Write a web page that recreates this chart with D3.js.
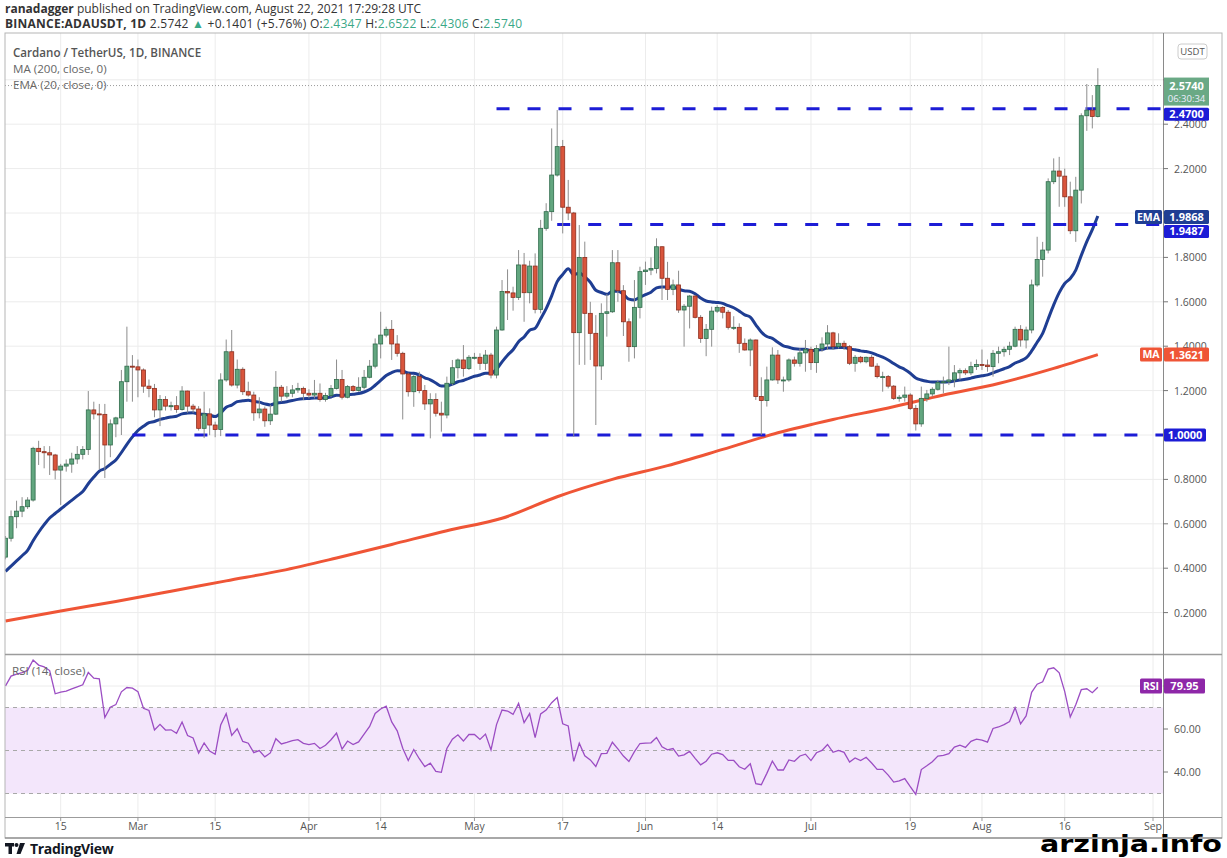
<!DOCTYPE html>
<html><head><meta charset="utf-8">
<script src="https://cdn.jsdelivr.net/npm/d3@7"></script>
<style>body{margin:0;background:#fff}svg{display:block;font-family:"Open Sans",sans-serif}</style>
</head><body><svg id="c" width="1227" height="858"></svg>
<script>
// ---------- DATA (ADA/USDT daily, 2021-02-05 .. 2021-08-22) ----------
const firstDay = "2021-02-05";
const opens = [0.45,0.535,0.632,0.657,0.677,0.707,0.94,0.925,0.92,0.91,0.842,0.86,0.869,0.892,0.913,0.935,1.113,1.095,1.093,0.955,1.05,1.077,1.24,1.31,1.307,1.293,1.22,1.21,1.113,1.16,1.13,1.132,1.115,1.198,1.13,1.117,1.03,1.095,1.045,1.025,1.248,1.375,1.225,1.296,1.195,1.18,1.10,1.117,1.064,1.094,1.215,1.175,1.188,1.203,1.21,1.188,1.18,1.188,1.16,1.178,1.21,1.25,1.17,1.218,1.20,1.215,1.26,1.31,1.41,1.45,1.476,1.41,1.368,1.275,1.195,1.263,1.20,1.14,1.16,1.098,1.09,1.233,1.303,1.338,1.30,1.35,1.35,1.323,1.36,1.27,1.473,1.646,1.64,1.62,1.766,1.641,1.761,1.566,1.931,2.006,2.171,2.299,2.026,2.0,1.461,1.80,1.548,1.458,1.311,1.548,1.555,1.776,1.65,1.51,1.398,1.575,1.736,1.743,1.75,1.848,1.706,1.656,1.676,1.563,1.58,1.626,1.53,1.435,1.476,1.558,1.575,1.553,1.485,1.485,1.413,1.383,1.428,1.173,1.155,1.248,1.36,1.248,1.248,1.338,1.323,1.37,1.386,1.326,1.39,1.41,1.46,1.398,1.413,1.398,1.323,1.35,1.33,1.35,1.31,1.263,1.263,1.22,1.165,1.17,1.18,1.12,1.05,1.165,1.185,1.206,1.236,1.24,1.248,1.28,1.29,1.28,1.308,1.318,1.315,1.308,1.368,1.375,1.386,1.40,1.476,1.428,1.473,1.676,1.791,1.833,2.141,2.189,2.166,2.073,1.92,2.103,2.438,2.463,2.4347];
const highs = [0.545,0.66,0.704,0.72,0.72,0.947,0.974,0.95,0.95,0.915,0.87,0.89,0.92,0.95,0.95,1.198,1.15,1.14,1.14,1.07,1.082,1.293,1.488,1.36,1.34,1.30,1.25,1.23,1.18,1.175,1.15,1.175,1.22,1.20,1.14,1.13,1.195,1.12,1.06,1.278,1.43,1.473,1.34,1.305,1.24,1.195,1.17,1.128,1.135,1.288,1.225,1.22,1.225,1.235,1.218,1.206,1.248,1.232,1.19,1.225,1.34,1.293,1.225,1.225,1.26,1.293,1.338,1.435,1.555,1.488,1.518,1.45,1.375,1.28,1.27,1.285,1.225,1.188,1.188,1.15,1.263,1.338,1.345,1.405,1.36,1.37,1.368,1.383,1.37,1.488,1.698,1.746,1.668,1.833,1.82,1.785,1.818,1.969,2.044,2.381,2.464,2.329,2.149,2.005,1.946,1.871,1.60,1.54,1.593,1.635,1.833,1.833,1.675,1.525,1.698,1.758,1.781,1.80,1.886,1.85,1.78,1.70,1.74,1.59,1.63,1.63,1.54,1.50,1.578,1.585,1.58,1.563,1.535,1.503,1.435,1.435,1.43,1.26,1.308,1.395,1.383,1.263,1.345,1.353,1.39,1.428,1.398,1.405,1.44,1.495,1.465,1.458,1.425,1.405,1.36,1.356,1.353,1.36,1.323,1.285,1.27,1.225,1.18,1.218,1.188,1.135,1.218,1.203,1.215,1.248,1.263,1.398,1.315,1.30,1.30,1.33,1.34,1.385,1.34,1.383,1.398,1.398,1.42,1.488,1.495,1.488,1.70,1.893,1.87,2.156,2.246,2.253,2.20,2.141,2.163,2.449,2.581,2.531,2.6522];
const lows = [0.44,0.52,0.58,0.63,0.667,0.70,0.865,0.85,0.82,0.80,0.685,0.835,0.83,0.87,0.89,0.91,1.07,0.845,0.806,0.90,0.99,1.0,1.15,1.15,1.17,1.19,1.17,1.08,1.04,1.11,1.11,1.10,1.11,1.10,1.10,1.02,0.986,0.999,0.99,0.995,1.24,1.218,1.21,1.18,1.173,1.064,1.075,1.037,1.045,1.09,1.15,1.165,1.17,1.19,1.158,1.165,1.165,1.15,1.15,1.17,1.205,1.16,1.165,1.195,1.195,1.205,1.255,1.30,1.345,1.44,1.338,1.353,1.07,1.173,1.127,1.188,1.113,0.985,1.083,1.015,1.075,1.225,1.255,1.263,1.293,1.34,1.293,1.293,1.255,1.255,1.47,1.518,1.56,1.608,1.51,1.593,1.548,1.548,1.92,1.965,2.164,1.908,1.968,0.992,1.316,1.316,1.338,1.045,1.248,1.443,1.55,1.60,1.446,1.33,1.345,1.525,1.676,1.72,1.728,1.608,1.608,1.63,1.55,1.398,1.48,1.525,1.415,1.355,1.398,1.55,1.525,1.475,1.473,1.37,1.38,1.31,1.158,1.0,1.128,1.245,1.23,1.195,1.24,1.308,1.308,1.285,1.293,1.28,1.375,1.383,1.383,1.39,1.383,1.315,1.285,1.323,1.323,1.308,1.255,1.195,1.21,1.158,1.15,1.15,1.113,1.02,1.037,1.15,1.173,1.20,1.188,1.225,1.215,1.248,1.27,1.27,1.293,1.293,1.285,1.263,1.323,1.353,1.36,1.395,1.398,1.39,1.458,1.668,1.713,1.818,2.13,2.028,2.028,1.905,1.87,2.043,2.37,2.381,2.4306];
const closes = [0.535,0.632,0.657,0.677,0.707,0.94,0.925,0.92,0.91,0.842,0.86,0.869,0.892,0.913,0.935,1.113,1.095,1.093,0.955,1.05,1.077,1.24,1.31,1.307,1.293,1.22,1.21,1.113,1.16,1.13,1.132,1.115,1.198,1.13,1.117,1.03,1.095,1.045,1.025,1.248,1.375,1.225,1.296,1.195,1.18,1.10,1.117,1.064,1.094,1.215,1.175,1.188,1.203,1.21,1.188,1.18,1.188,1.16,1.178,1.21,1.25,1.17,1.218,1.20,1.215,1.26,1.31,1.41,1.45,1.476,1.41,1.368,1.275,1.195,1.263,1.20,1.14,1.16,1.098,1.09,1.233,1.303,1.338,1.30,1.35,1.35,1.323,1.36,1.27,1.473,1.646,1.64,1.62,1.766,1.641,1.761,1.566,1.931,2.006,2.171,2.299,2.026,2.0,1.461,1.80,1.548,1.458,1.311,1.548,1.555,1.776,1.65,1.51,1.398,1.575,1.736,1.743,1.75,1.848,1.706,1.656,1.676,1.563,1.58,1.626,1.53,1.435,1.476,1.558,1.575,1.553,1.485,1.485,1.413,1.383,1.428,1.173,1.155,1.248,1.36,1.248,1.248,1.338,1.323,1.37,1.386,1.326,1.39,1.41,1.46,1.398,1.413,1.398,1.323,1.35,1.33,1.35,1.31,1.263,1.263,1.22,1.165,1.17,1.18,1.12,1.05,1.165,1.185,1.206,1.236,1.24,1.248,1.28,1.29,1.28,1.308,1.318,1.315,1.308,1.368,1.375,1.386,1.40,1.476,1.428,1.473,1.676,1.791,1.833,2.141,2.189,2.166,2.073,1.92,2.103,2.438,2.463,2.4347,2.574];
const maIndex = [0,10,20,30,40,50,60,70,80,90,100,110,120,130,140,150,160,170,180,190,198];
const maValues = [0.162,0.207,0.25,0.296,0.343,0.389,0.446,0.507,0.569,0.625,0.722,0.80,0.862,0.935,1.01,1.07,1.122,1.18,1.232,1.30,1.3621];
const emaSeed = 0.37;                 // EMA value before first shown candle
const rsiSeedGain = 0.02, rsiSeedLoss = 0.005;
const priceTicks = [0.2,0.4,0.6,0.8,1.0,1.2,1.4,1.6,1.8,2.0,2.2,2.4,2.6];
const hiddenPriceTicks = [1.0, 2.0, 2.6];   // covered by badges in the reference
const rsiTicks = [40,60,80];
const hiddenRsiTicks = [80];
const rsiGuides = [70,50,30];
const dateTicks = ["2021-02-15","2021-03-01","2021-03-15","2021-04-01","2021-04-14","2021-05-01","2021-05-17","2021-06-01","2021-06-14","2021-07-01","2021-07-19","2021-08-01","2021-08-16","2021-09-01"];
const dateLabels = ["15","Mar","15","Apr","14","May","17","Jun","14","Jul","19","Aug","16","Sep"];
const levelValues = [2.47, 1.9487, 1.0];
const levelStarts = ["2021-05-05","2021-05-16","2021-02-28"];
const lastRsiText = "79.95";

// ---------- LAYOUT ----------
const svg = d3.select("#c");
const L = 5, R = 1163, FR = 1222, TOP = 33, PB = 654, RT = 655, RB = 817, AB = 838;
const dayMs = 864e5;
const t0 = new Date(firstDay + "T00:00:00Z");
const dates = closes.map((_, i) => new Date(t0.getTime() + i * dayMs));
const x = d3.scaleUtc().domain([new Date("2021-02-15T00:00:00Z"), new Date("2021-09-01T00:00:00Z")]).range([60.7, 1153]);
const y = d3.scaleLinear().domain([0, 2.4]).range([657, 124.2]);
const yr = d3.scaleLinear().domain([40, 60]).range([772, 729]);

const UP = "#62a67f", UPB = "#2f6b4b", DN = "#d9553c", DNB = "#8c2f1f", WICK = "#8d8d8d";
const BLUE = "#1c1cd6", NAVY = "#1f3e93", MAC = "#ef5536", PURP = "#9b4dc3", PURPBOX = "#8e27a8";
const GRID = "#ececec";

const defs = svg.append("defs");
defs.append("clipPath").attr("id", "cp").append("rect").attr("x", L).attr("y", TOP).attr("width", R - L).attr("height", PB - TOP);
defs.append("clipPath").attr("id", "cr").append("rect").attr("x", L).attr("y", RT).attr("width", R - L).attr("height", RB - RT);

// header
const h1 = svg.append("text").attr("x", 5).attr("y", 13).attr("font-size", 12).attr("fill", "#333");
h1.append("tspan").attr("font-weight", 700).text("ranadagger");
h1.append("tspan").text(" published on TradingView.com, August 22, 2021 17:29:28 UTC");
const GT = "#3aa887";
const h2 = svg.append("text").attr("x", 5).attr("y", 28).attr("font-size", 12).attr("fill", "#333")
  .attr("textLength", 517).attr("lengthAdjust", "spacing");
h2.append("tspan").attr("font-weight", 700).text("BINANCE:ADAUSDT, 1D");
h2.append("tspan").text(" 2.5742 ");
h2.append("tspan").attr("fill", GT).text("▲");
h2.append("tspan").text(" +0.1401 (+5.76%) O:");
h2.append("tspan").attr("fill", GT).text("2.4347");
h2.append("tspan").text(" H:");
h2.append("tspan").attr("fill", GT).text("2.6522");
h2.append("tspan").text(" L:");
h2.append("tspan").attr("fill", GT).text("2.4306");
h2.append("tspan").text(" C:");
h2.append("tspan").attr("fill", GT).text("2.5740");

// grids
const gp = svg.append("g");
gp.selectAll("line.h").data(priceTicks).join("line").attr("x1", L).attr("x2", R)
  .attr("y1", d => y(d)).attr("y2", d => y(d)).attr("stroke", GRID);
gp.selectAll("line.v").data(dateTicks).join("line").attr("x1", d => x(new Date(d + "T00:00:00Z"))).attr("x2", d => x(new Date(d + "T00:00:00Z")))
  .attr("y1", TOP).attr("y2", RB).attr("stroke", GRID);
gp.selectAll("line.rh").data(rsiTicks).join("line").attr("x1", L).attr("x2", R)
  .attr("y1", d => yr(d)).attr("y2", d => yr(d)).attr("stroke", GRID);

// legend
svg.append("text").attr("x", 13).attr("y", 57).attr("font-size", 11.6).attr("font-weight", 600).attr("fill", "#555").text("Cardano / TetherUS, 1D, BINANCE");
svg.append("text").attr("x", 13).attr("y", 73).attr("font-size", 11.6).attr("fill", "#666").text("MA (200, close, 0)");
svg.append("text").attr("x", 13).attr("y", 89).attr("font-size", 11.6).attr("fill", "#666").text("EMA (20, close, 0)");

const pane = svg.append("g").attr("clip-path", "url(#cp)");

// last price dotted line
pane.append("line").attr("x1", L).attr("x2", R).attr("y1", y(closes[closes.length - 1])).attr("y2", y(closes[closes.length - 1]))
  .attr("stroke", "#9a9a9a").attr("stroke-dasharray", "1,2");

// MA200
const maPts = maIndex.map((k, j) => [dates[k], maValues[j]]);
pane.append("path").datum(maPts).attr("fill", "none").attr("stroke", MAC).attr("stroke-width", 3)
  .attr("d", d3.line().x(d => x(d[0])).y(d => y(d[1])).curve(d3.curveMonotoneX));

// EMA20 computed from closes
const k = 2 / 21;
let e = emaSeed;
const ema = closes.map(c => (e = e + k * (c - e)));
pane.append("path").datum(ema).attr("fill", "none").attr("stroke", NAVY).attr("stroke-width", 3)
  .attr("d", d3.line().x((d, i) => x(dates[i])).y(d => y(d)).curve(d3.curveMonotoneX));

// level lines
levelValues.forEach((v, j) => {
  pane.append("line").attr("x1", x(new Date(levelStarts[j] + "T00:00:00Z"))).attr("x2", R)
    .attr("y1", y(v)).attr("y2", y(v)).attr("stroke", BLUE).attr("stroke-width", 3).attr("stroke-dasharray", "13,18");
});

// candles
const cg = pane.append("g");
closes.forEach((c, i) => {
  const o = opens[i], cx = x(dates[i]);
  const up = c >= o;
  cg.append("line").attr("x1", cx).attr("x2", cx).attr("y1", y(highs[i])).attr("y2", y(lows[i])).attr("stroke", WICK).attr("stroke-width", 1);
  const top = y(Math.max(o, c)), bot = y(Math.min(o, c));
  cg.append("rect").attr("x", cx - 2).attr("y", top).attr("width", 4).attr("height", Math.max(1, bot - top))
    .attr("fill", up ? UP : DN).attr("stroke", up ? UPB : DNB).attr("stroke-width", 0.8);
});

// RSI
let ag = rsiSeedGain, al = rsiSeedLoss;
const rsi = closes.map((c, i) => {
  if (i > 0) {
    const ch = c - closes[i - 1];
    ag = (ag * 13 + Math.max(ch, 0)) / 14;
    al = (al * 13 + Math.max(-ch, 0)) / 14;
  }
  return 100 - 100 / (1 + ag / al);
});
const rp = svg.append("g").attr("clip-path", "url(#cr)");
rp.append("rect").attr("x", L).attr("width", R - L).attr("y", yr(70)).attr("height", yr(30) - yr(70)).attr("fill", "#f3e6fb");
rp.selectAll("line.g").data(rsiGuides).join("line").attr("x1", L).attr("x2", R).attr("y1", d => yr(d)).attr("y2", d => yr(d))
  .attr("stroke", "#a8a8a8").attr("stroke-dasharray", "4,4");
rp.append("path").datum(rsi).attr("fill", "none").attr("stroke", PURP).attr("stroke-width", 1.3)
  .attr("d", d3.line().x((d, i) => x(dates[i])).y(d => yr(d)));
svg.append("text").attr("x", 12).attr("y", 675).attr("font-size", 11.6).attr("fill", "#666").text("RSI (14, close)");

// frame & separators
svg.append("rect").attr("x", L).attr("y", TOP).attr("width", FR - L).attr("height", AB - TOP).attr("fill", "none").attr("stroke", "#b5b5b5");
svg.append("line").attr("x1", L).attr("x2", FR).attr("y1", PB + 0.5).attr("y2", PB + 0.5).attr("stroke", "#9c9c9c").attr("stroke-width", 1.5);
svg.append("line").attr("x1", L).attr("x2", FR).attr("y1", RB + 0.5).attr("y2", RB + 0.5).attr("stroke", "#9c9c9c");
svg.append("line").attr("x1", R + 0.5).attr("x2", R + 0.5).attr("y1", TOP).attr("y2", AB).attr("stroke", "#8a8a8a");
svg.append("line").attr("x1", L).attr("x2", FR).attr("y1", AB).attr("y2", AB).attr("stroke", "#777");

// price axis
const ax = svg.append("g").attr("font-size", 10.5).attr("fill", "#555");
priceTicks.forEach(v => {
  ax.append("line").attr("x1", R).attr("x2", R + 5).attr("y1", y(v)).attr("y2", y(v)).attr("stroke", "#777");
  if (!hiddenPriceTicks.includes(v)) ax.append("text").attr("x", 1174).attr("y", y(v) + 4).text(d3.format(".4f")(v));
});
rsiTicks.forEach(v => {
  ax.append("line").attr("x1", R).attr("x2", R + 5).attr("y1", yr(v)).attr("y2", yr(v)).attr("stroke", "#777");
  if (!hiddenRsiTicks.includes(v)) ax.append("text").attr("x", 1174).attr("y", yr(v) + 4).text(d3.format(".2f")(v));
});
// USDT badge
svg.append("rect").attr("x", 1178).attr("y", 44).attr("width", 29).attr("height", 15).attr("rx", 3).attr("fill", "#fff").attr("stroke", "#ccc");
svg.append("text").attr("x", 1192.5).attr("y", 55).attr("text-anchor", "middle").attr("font-size", 9.5).attr("fill", "#555").text("USDT");

// date axis
const dx = svg.append("g").attr("font-size", 10.5).attr("fill", "#555");
dateTicks.forEach((d, j) => {
  const px = x(new Date(d + "T00:00:00Z"));
  dx.append("line").attr("x1", px).attr("x2", px).attr("y1", RB).attr("y2", RB + 4).attr("stroke", "#999");
  dx.append("text").attr("x", px).attr("y", 830).attr("text-anchor", "middle").text(dateLabels[j]);
});

// axis badges
function badge(cy, txt, fill, x0, w, h, fs) {
  svg.append("rect").attr("x", x0).attr("y", cy - h / 2).attr("width", w).attr("height", h).attr("rx", 1.5).attr("fill", fill);
  svg.append("text").attr("x", x0 + w / 2).attr("y", cy + fs * 0.36).attr("text-anchor", "middle").attr("font-size", fs)
    .attr("font-weight", 700).attr("fill", "#fff").text(txt);
}
const lastC = closes[closes.length - 1];
svg.append("rect").attr("x", R + 1).attr("y", y(lastC) - 8).attr("width", 45).attr("height", 28).attr("fill", "#6aa985");
svg.append("text").attr("x", R + 23.5).attr("y", y(lastC) + 4).attr("text-anchor", "middle").attr("font-size", 11).attr("font-weight", 700).attr("fill", "#fff").text(d3.format(".4f")(lastC));
svg.append("text").attr("x", R + 23.5).attr("y", y(lastC) + 16.5).attr("text-anchor", "middle").attr("font-size", 9.5).attr("fill", "#eef").text("06:30:34");
badge(y(levelValues[0]) + 5.5, d3.format(".4f")(levelValues[0]), BLUE, R + 1, 45, 13, 11);
badge(y(ema[ema.length - 1]) + 1, "EMA", NAVY, 1135, 27, 14, 10.5);
badge(y(ema[ema.length - 1]) + 1, d3.format(".4f")(ema[ema.length - 1]), NAVY, R + 1, 45, 14, 11);
badge(y(levelValues[1]) + 7, d3.format(".4f")(levelValues[1]), BLUE, R + 1, 45, 13, 11);
badge(y(maValues[maValues.length - 1]), "MA", MAC, 1140, 22, 14, 10.5);
badge(y(maValues[maValues.length - 1]), d3.format(".4f")(maValues[maValues.length - 1]), MAC, R + 1, 45, 14, 11);
badge(y(levelValues[2]), d3.format(".4f")(levelValues[2]), BLUE, R + 1, 42, 13, 11);
badge(yr(+lastRsiText), "RSI", PURPBOX, 1140, 22, 15, 10.5);
badge(yr(+lastRsiText), lastRsiText, PURPBOX, R + 1, 41, 15, 11);

// footer
const logo = svg.append("g").attr("fill", "#131722");
logo.append("rect").attr("x", 5).attr("y", 843).attr("width", 9).attr("height", 3.5);
logo.append("rect").attr("x", 8.5).attr("y", 843).attr("width", 3.5).attr("height", 11);
logo.append("circle").attr("cx", 16.5).attr("cy", 845).attr("r", 2);
logo.append("path").attr("d", "M20,843 L25,843 L20.5,854 L16.5,854 Z");
svg.append("text").attr("x", 30).attr("y", 854).attr("font-size", 14).attr("font-weight", 700).attr("fill", "#131722")
  .attr("letter-spacing", -0.3).text("TradingView");
svg.append("text").attr("x", 1040).attr("y", 852).attr("font-family", "'Liberation Sans Narrow','DejaVu Sans Condensed',sans-serif")
  .attr("font-size", 23).attr("font-weight", 700).attr("fill", "#000")
  .attr("textLength", 182).attr("lengthAdjust", "spacingAndGlyphs").text("arzinja.info");
</script></body></html>
